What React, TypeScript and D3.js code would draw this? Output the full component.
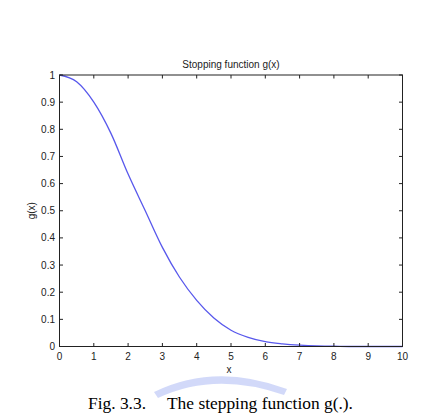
import React from "react";
import * as d3 from "d3";

const xValues = [0, 0.5, 1, 1.5, 2, 2.5, 3, 3.5, 4, 4.5, 5, 5.5, 6, 6.5, 7, 7.5, 8, 8.5, 9, 9.5, 10];
const gValues = [1.0, 0.975, 0.9, 0.785, 0.635, 0.5, 0.365, 0.255, 0.17, 0.105, 0.06, 0.034, 0.018, 0.01, 0.005, 0.002, 0.001, 0, 0, 0, 0];
const xTicks = [0, 1, 2, 3, 4, 5, 6, 7, 8, 9, 10];
const yTicks = [0, 0.1, 0.2, 0.3, 0.4, 0.5, 0.6, 0.7, 0.8, 0.9, 1];
const title = "Stopping function g(x)";
const xLabel = "x";
const yLabel = "g(x)";

export default function App() {
  const W = 444, H = 413;
  const L = 59.5, R = 402.5, T = 75, B = 346.5;
  const x = d3.scaleLinear().domain([0, 10]).range([L, R]);
  const y = d3.scaleLinear().domain([0, 1]).range([B, T]);
  const data = xValues.map((v, i) => [v, gValues[i]] as [number, number]);
  const line = d3.line<[number, number]>().x(d => x(d[0])).y(d => y(d[1])).curve(d3.curveMonotoneX);
  const font = "'Liberation Sans', Arial, sans-serif";
  const tl = 3.5;
  const axisColor = "#222";
  const serif = "'Liberation Serif', 'Times New Roman', serif";
  return (
    <svg width={W} height={H} style={{ position: "absolute", left: 0, top: 0, background: "#fff" }}>
      <rect x={0} y={0} width={W} height={H} fill="#fff" />
      <path d={line(data) || ""} fill="none" stroke="#5858ec" strokeWidth={1.3} />
      <rect x={L} y={T} width={R - L} height={B - T} fill="none" stroke={axisColor} strokeWidth={1} />
      {xTicks.map(t => (
        <g key={"x" + t}>
          <line x1={x(t)} x2={x(t)} y1={B} y2={B - tl} stroke={axisColor} />
          <line x1={x(t)} x2={x(t)} y1={T} y2={T + tl} stroke={axisColor} />
          <text x={x(t)} y={359.5} fontSize={10} fontFamily={font} fill="#222" textAnchor="middle">{t}</text>
        </g>
      ))}
      {yTicks.map(t => (
        <g key={"y" + t}>
          <line x1={L} x2={L + tl} y1={y(t)} y2={y(t)} stroke={axisColor} />
          <line x1={R} x2={R - tl} y1={y(t)} y2={y(t)} stroke={axisColor} />
          <text x={55} y={y(t) + 3.5} fontSize={10} fontFamily={font} fill="#222" textAnchor="end">{String(t)}</text>
        </g>
      ))}
      <text x={(L + R) / 2} y={68} fontSize={10} fontFamily={font} fill="#222" textAnchor="middle">{title}</text>
      <text x={229} y={373} fontSize={10} fontFamily={font} fill="#222" textAnchor="middle">{xLabel}</text>
      <text transform={`translate(35,${(T + B) / 2}) rotate(-90)`} fontSize={10} fontFamily={font} fill="#222" textAnchor="middle">{yLabel}</text>
      <path d="M154,392 Q215,362 287,389 L284,395 Q215,371 158,398 Z" fill="#8e9ff0" opacity={0.4} />
      <text x={88} y={408.5} fontSize={17.4} fontFamily={serif} fill="#000">Fig. 3.3.</text>
      <text x={167} y={408.5} fontSize={17.4} fontFamily={serif} fill="#000">The stepping function g(.).</text>
    </svg>
  );
}
